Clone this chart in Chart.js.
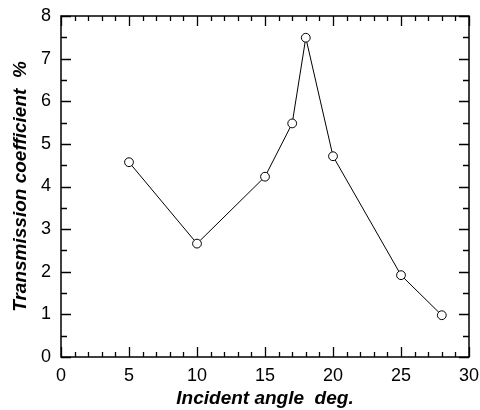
<!DOCTYPE html>
<html>
<head>
<meta charset="utf-8">
<script src="https://cdn.jsdelivr.net/npm/chart.js@4.4.0/dist/chart.umd.min.js"></script>
<style>
  html, body { margin: 0; padding: 0; background: #fff; }
  #wrap { width: 480px; height: 410px; }
</style>
</head>
<body>
<div id="wrap"><canvas id="chart" width="480" height="410"></canvas></div>
<script>
// Measured transmission vs incident angle
const angles = [5, 10, 15, 17, 18, 20, 25, 28];
const transmission = [4.57, 2.66, 4.23, 5.48, 7.49, 4.71, 1.92, 0.98];

// Axis ranges and tick steps
const xRange = [0, 30];
const yRange = [0, 8];
const xMajorStep = 5, xMinorStep = 1;
const yMajorStep = 1, yMinorStep = 0.5;

const FONT = "'Liberation Sans', Arial, Helvetica, sans-serif";

// Frame on all four sides with inward major/minor ticks
const frameTicks = {
  id: "frameTicks",
  afterDraw(chart) {
    const { ctx, chartArea: a, scales: { x, y } } = chart;
    ctx.save();
    ctx.strokeStyle = "#000";
    ctx.lineWidth = 1.5;
    ctx.strokeRect(a.left, a.top, a.right - a.left, a.bottom - a.top);

    ctx.lineWidth = 1.3;
    ctx.beginPath();
    for (let v = xRange[0]; v <= xRange[1] + 1e-9; v += xMinorStep) {
      const px = Math.round(x.getPixelForValue(v)) + 0.5;
      const len = Math.abs(v % xMajorStep) < 1e-9 ? 10 : 5;
      ctx.moveTo(px, a.bottom); ctx.lineTo(px, a.bottom - len);
      ctx.moveTo(px, a.top); ctx.lineTo(px, a.top + len);
    }
    for (let v = yRange[0]; v <= yRange[1] + 1e-9; v += yMinorStep) {
      const py = Math.round(y.getPixelForValue(v)) + 0.5;
      const len = Math.abs(v % yMajorStep) < 1e-9 ? 10 : 6;
      ctx.moveTo(a.left, py); ctx.lineTo(a.left + len, py);
      ctx.moveTo(a.right, py); ctx.lineTo(a.right - len, py);
    }
    ctx.stroke();
    ctx.restore();
  }
};

new Chart(document.getElementById("chart"), {
  type: "scatter",
  data: {
    datasets: [{
      data: angles.map((a, i) => ({ x: a, y: transmission[i] })),
      showLine: true,
      borderColor: "#000",
      borderWidth: 1,
      pointRadius: 4.4,
      pointBorderWidth: 1,
      pointBackgroundColor: "#fff",
      pointBorderColor: "#000"
    }]
  },
  options: {
    responsive: false,
    animation: false,
    layout: { padding: { left: 0, top: 16, right: 11, bottom: 0 } },
    plugins: { legend: { display: false }, tooltip: { enabled: false } },
    scales: {
      x: {
        type: "linear",
        min: xRange[0], max: xRange[1],
        grid: { display: false, drawTicks: false },
        border: { display: false },
        ticks: { stepSize: xMajorStep, color: "#000", padding: 8, font: { family: FONT, size: 18 } },
        title: {
          display: true, text: "Incident angle  deg.", color: "#000",
          font: { family: FONT, size: 19, weight: "bold", style: "italic" },
          padding: { top: 0, bottom: 0 }
        },
        afterFit(s) { s.height = 53; s.paddingLeft = 0; s.paddingRight = 0; }
      },
      y: {
        type: "linear",
        min: yRange[0], max: yRange[1],
        grid: { display: false, drawTicks: false },
        border: { display: false },
        ticks: { stepSize: yMajorStep, color: "#000", padding: 10, font: { family: FONT, size: 18 } },
        title: {
          display: true, text: "Transmission coefficient  %", color: "#000",
          font: { family: FONT, size: 19, weight: "bold", style: "italic" },
          padding: { top: 9, bottom: 0 }
        },
        afterFit(s) { s.width = 61; s.paddingTop = 0; s.paddingBottom = 0; }
      }
    }
  },
  plugins: [frameTicks]
});
</script>
</body>
</html>
